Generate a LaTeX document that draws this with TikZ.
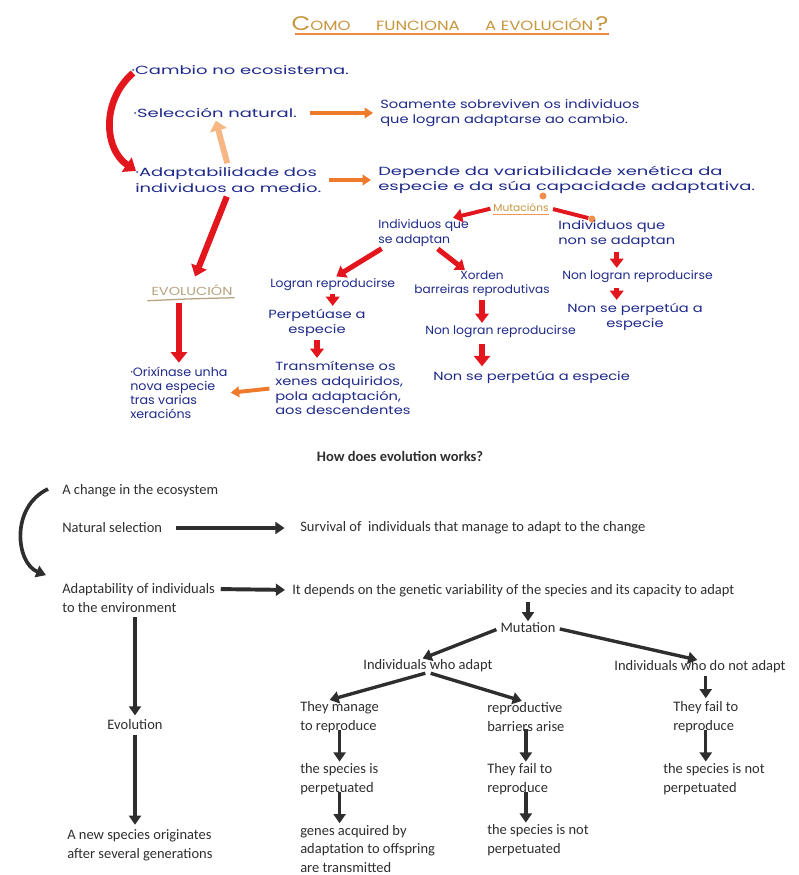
\documentclass[tikz,border=0pt]{standalone}
\usepackage{fontspec}
\usepackage{tikz}
\usetikzlibrary{arrows.meta,calc,positioning}
\setmainfont{Carlito}
\newfontfamily\handL[FakeStretch=1.52]{Poppins}
\newfontfamily\handM[FakeStretch=1.24]{Poppins}
\newfontfamily\handS[FakeStretch=1.05]{Poppins}
\newcommand\hs{\fontsize{8.4}{11.2}\selectfont}
\definecolor{ink}{HTML}{1F2A8A}
\definecolor{redink}{HTML}{E3161E}
\definecolor{orink}{HTML}{F07A2C}
\definecolor{paleor}{HTML}{F6B784}
\definecolor{tangold}{HTML}{C8953E}
\definecolor{tangrey}{HTML}{B5A37E}
\definecolor{typedgrey}{HTML}{2E2E2E}

\begin{document}
\begin{tikzpicture}[x=0.025cm,y=-0.025cm]

	\tikzstyle{hand}=[inner sep=0pt,text=ink,align=left]
	\tikzstyle{bigink}=[hand,font=\handL\hs]
	\tikzstyle{midink}=[hand,font=\handM\hs]
	\tikzstyle{smallink}=[hand,font=\handS\hs]
	\tikzstyle{typed}=[inner sep=0pt,text=typedgrey,align=left,font=\fontsize{10.3}{13.5}\selectfont]
	\tikzstyle{redarr}=[draw=redink,line width=3.6pt,-{Triangle[length=6.5pt,width=9.5pt]}]
	\tikzstyle{orarr}=[draw=orink,line width=2.8pt,-{Triangle[length=6pt,width=7.5pt]}]
	\tikzstyle{blkarr}=[draw=typedgrey,line width=2.4pt,-{Triangle[length=6.5pt,width=8.5pt]}]
	\tikzstyle{dot}=[circle,fill=orink!85,inner sep=0pt,minimum size=5pt]

	\fill [white] (0,0) rectangle (799,875);
	\useasboundingbox (0,0) rectangle (799,875);

	\node [hand,text=tangold,font=\handM\fontsize{9.5}{10}\selectfont] (g0) at (450,24) {{\fontsize{14}{14}\selectfont C}OMO\hspace{18pt}FUNCIONA\hspace{18pt}A EVOLUCIÓN\,{\fontsize{14}{14}\selectfont ?}};
	\draw [orink!90,line width=1.3pt] ($(g0.south west)+(4,3)$) -- ($(g0.south east)+(0,3)$);

	\node [bigink,anchor=west] (g1) at (131,70) {·Cambio no ecosistema.};
	\node [bigink,anchor=west] (g2) at (133,113) {·Selección natural.};
	\node [midink,anchor=west] (g3) at (380,113) {Soamente sobreviven os individuos\\que logran adaptarse ao cambio.};
	\node [bigink,anchor=west] (g4) at (135,180) {·Adaptabilidade dos\\individuos ao medio.};
	\node [bigink,anchor=west] (g5) at (378,180) {Depende da variabilidade xenética da\\especie e da súa capacidade adaptativa.};
	\node [dot] (d1) at (543,196) {};
	\node [hand,text=tangold,font=\handS\fontsize{7.2}{8}\selectfont] (g6) at (521,208) {Mutacións};
	\node [dot] (d2) at (592,219) {};
	\node [smallink,anchor=west] (g7) at (378,233) {Individuos que\\se adaptan};
	\node [smallink,anchor=west,font=\handM\hs] (g8) at (558,234) {Individuos que\\non se adaptan};
	\node [hand,text=tangrey,font=\handM\fontsize{8.3}{9}\selectfont] (g14) at (192,290) {EVOLUCIÓN};
	\node [smallink,anchor=west] (g9) at (270,285) {Logran reproducirse};
	\node [smallink,align=center,font=\handS\fontsize{8.2}{10}\selectfont] (g10) at (482,284) {Xorden\\barreiras reprodutivas};
	\node [smallink,align=center,font=\handM\hs] (g11) at (317,323) {Perpetúase a\\especie};
	\node [midink,anchor=west,font=\handM\fontsize{8.4}{10.6}\selectfont] (g12) at (275,388) {Transmítense os\\xenes adquiridos,\\pola adaptación,\\aos descendentes};
	\node [smallink,anchor=west,font=\handS\fontsize{8.6}{10}\selectfont] (g13) at (130,393) {·Orixínase unha\\nova especie\\tras varias\\xeracións};
	\node [smallink,anchor=west] (g15) at (425,332) {Non logran reproducirse};
	\node [midink,anchor=west] (g16) at (433,377) {Non se perpetúa a especie};
	\node [smallink,anchor=west] (g17) at (562,277) {Non logran reproducirse};
	\node [midink,align=center] (g18) at (635,317) {Non se perpetúa a\\especie};

	\draw [orink!80,line width=0.6pt] ($(g6.south west)+(0,2)$) -- ($(g6.south east)+(0,2)$);
	\draw [tangrey,line width=0.9pt] ($(g14.south west)+(-4,5)$) .. controls ($(g14.south)+(0,3)$) .. ($(g14.south east)+(2,2)$);

	\draw [redarr,line width=4.8pt,-{Triangle[length=8pt,width=12pt]}] ($(g1.west)+(2,3)$) .. controls +(-32,28) and +(-32,-22) .. ($(g4.west)+(1,-9)$);
	\draw [orarr,shorten <=9pt,shorten >=5pt] (g2.east) -- (g3.west);
	\draw [draw=paleor,line width=4.2pt,-{Triangle[length=7pt,width=12pt]},shorten <=3pt,shorten >=2pt] (g4.north) -- (g2.south);
	\draw [orarr,shorten <=5pt,shorten >=5pt] (g4.east) -- (g5.west);
	\draw [redarr,line width=4.4pt,-{Triangle[length=7.5pt,width=11.5pt]},shorten <=3pt,shorten >=6pt] (g4.south) -- (g14.north);
	\draw [redarr,line width=4.4pt,-{Triangle[length=7.5pt,width=11.5pt]},shorten <=5pt,shorten >=3pt] (g13.north |- g14.south) -- (g13.north);
	\draw [redarr,line width=2.8pt,shorten <=2pt] (g6.west) -- ($(g7.north east)+(-16,-1)$);
	\draw [redink,line width=2.8pt,shorten <=3pt] (g6.east) -- (d2);
	\draw [redarr,shorten <=2pt,shorten >=3pt] ($(g7.south west)+(6,0)$) -- (g9.north);
	\draw [redarr,shorten <=2pt,shorten >=1pt] ($(g7.south)+(12,0)$) -- ($(g10.north)+(-16,0)$);
	\draw [redarr,shorten <=2pt,shorten >=2pt] (g9.south) -- (g9.south |- g11.north);
	\draw [redarr,shorten <=2pt,shorten >=2pt] (g11.south) -- (g11.south |- g12.north);
	\draw [orarr,shorten <=4pt,shorten >=2pt] (g12.west) -- (g13.east);
	\draw [redarr,shorten <=2pt,shorten >=2pt] (g10.south) -- (g10.south |- g15.north);
	\draw [redarr,line width=4.6pt,-{Triangle[length=7.5pt,width=11.5pt]},shorten <=4pt,shorten >=3pt] (g10.south |- g15.south) -- (g10.south |- g16.north);
	\draw [redarr,shorten <=3pt,shorten >=2pt] (g8.south) -- (g8.south |- g17.north);
	\draw [redarr,shorten <=3pt,shorten >=2pt] (g8.south |- g17.south) -- (g8.south |- g18.north);

	\node [typed,font=\bfseries\fontsize{10.3}{12}\selectfont] (t0) at (400,456) {How does evolution works?};
	\node [typed,anchor=west] (t1) at (62,491) {A change in the ecosystem};
	\node [typed,anchor=west] (t2) at (62,528) {Natural selection};
	\node [typed,anchor=west] (t3) at (300,528) {Survival of~ individuals that manage to adapt to the change};
	\node [typed,anchor=west] (t4) at (62,598) {Adaptability of individuals\\to the environment};
	\node [typed,anchor=west] (t5) at (292,591) {It depends on the genetic variability of the species and its capacity to adapt};
	\node [typed] (t6) at (528,628) {Mutation};
	\node [typed] (t7) at (428,666) {Individuals who adapt};
	\node [typed] (t8) at (700,667) {Individuals who do not adapt};
	\node [typed] (t17) at (135,725) {Evolution};
	\node [typed,anchor=west] (t9) at (300,717) {They manage\\to reproduce};
	\node [typed,anchor=west] (t10) at (300,779) {the species is\\perpetuated};
	\node [typed,anchor=west] (t11) at (300,849) {genes acquired by\\adaptation to offspring\\are transmitted};
	\node [typed,anchor=west] (t12) at (487,717) {reproductive\\barriers arise};
	\node [typed,anchor=west] (t13) at (487,779) {They fail to\\reproduce};
	\node [typed,anchor=west] (t14) at (487,840) {the species is not\\perpetuated};
	\node [typed,anchor=west] (t15) at (673,717) {They fail to\\reproduce};
	\node [typed,anchor=west] (t16) at (663,779) {the species is not\\perpetuated};
	\node [typed,anchor=west] (t18) at (67,845) {A new species originates\\after several generations};

	\draw [blkarr,line width=2.6pt,-{Triangle[length=7pt,width=8.5pt]}] ($(t1.west)+(-14,-2)$) .. controls +(-38,18) and +(-30,-12) .. ($(t4.north west)+(-16,-8)$);
	\draw [blkarr,line width=2.8pt,shorten <=10pt,shorten >=11pt] (t2.east) -- (t3.west);
	\draw [blkarr,line width=2.8pt,shorten <=4pt,shorten >=5pt] ($(t4.east)+(0,-9)$) -- ($(t5.west)+(0,-1)$);
	\draw [blkarr,shorten <=3pt,shorten >=1pt] (t6.north |- t5.south) -- (t6.north);
	\draw [blkarr,shorten <=3pt,shorten >=2pt] (t6.west) -- ($(t7.north)+(-8,0)$);
	\draw [blkarr,shorten <=3pt,shorten >=2pt] (t6.east) -- (t8.north);
	\draw [blkarr,shorten <=2pt,shorten >=3pt] (t7.south) -- ($(t9.north)+(-14,0)$);
	\draw [blkarr,shorten <=2pt,shorten >=3pt] (t7.south) -- (t12.north);
	\draw [blkarr,shorten <=2pt,shorten >=2pt] (t15.north |- t8.south) -- (t15.north);
	\draw [blkarr,shorten <=3pt,shorten >=3pt] (t17.north |- t4.south) -- (t17.north);
	\draw [blkarr,shorten <=3pt,shorten >=3pt] (t17.south) -- (t17.south |- t18.north);
	\draw [blkarr,shorten <=-2pt,shorten >=1pt] (t9.south) -- (t9.south |- t10.north);
	\draw [blkarr,shorten <=-2pt,shorten >=1pt] (t9.south |- t10.south) -- (t9.south |- t11.north);
	\draw [blkarr,shorten <=-2pt,shorten >=1pt] (t12.south) -- (t12.south |- t13.north);
	\draw [blkarr,shorten <=-2pt,shorten >=1pt] (t12.south |- t13.south) -- (t12.south |- t14.north);
	\draw [blkarr,shorten <=-2pt,shorten >=1pt] (t15.south) -- (t15.south |- t16.north);

\end{tikzpicture}
\end{document}
